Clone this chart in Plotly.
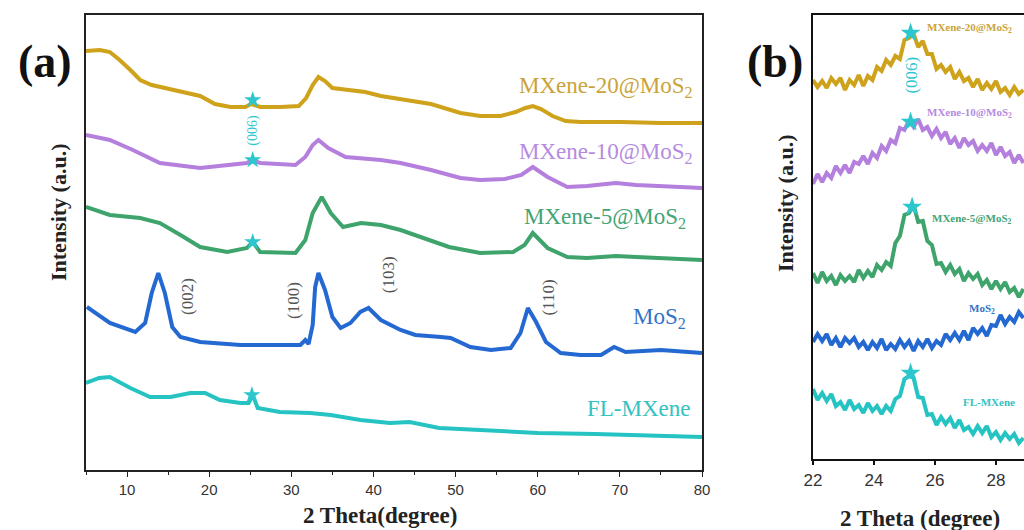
import plotly.graph_objects as go

W, H = 1024, 530

# ---------------- Panel (a) data: 2theta vs intensity (a.u., stacked) ----------------
names = ["MXene-20@MoS<sub>2</sub>", "MXene-10@MoS<sub>2</sub>", "MXene-5@MoS<sub>2</sub>", "MoS<sub>2</sub>", "FL-MXene"]
colors = ["#CFA21C", "#B47FDD", "#3EA46C", "#2468D2", "#26C3C3"]
label_colors = ["#C9A43A", "#B58BE0", "#45A474", "#3272C8", "#35C2C2"]

gold_x = [5, 6.7, 7.9, 9.1, 10.4, 11.6, 13, 14.6, 17.1, 18.9, 20.7, 22.6, 24.4, 25.1, 25.5, 26.2, 28.7, 30.9, 31.8,
          32.6, 33.3, 34.1, 35, 36.6, 39, 40.9, 43.3, 47, 50.6, 53, 55.5, 57.3, 58.5, 59.4, 60.4, 61.8, 63.4, 65.2,
          70.1, 75, 80]
gold_y = [419, 420, 418, 410, 400, 390, 385, 382, 378, 374, 366, 363, 363, 366, 365, 363, 363, 364, 372,
          385, 393, 389, 382, 380, 378, 374, 371, 366, 357, 354, 354, 358, 362, 364, 361, 354, 349, 348,
          348, 347, 347]

purple_x = [5, 7.9, 10.7, 14, 18.9, 22.9, 24.6, 25.2, 26.2, 30.5, 31.7, 32.6, 33.3, 34.5, 36.6, 40.9, 43.3, 47,
            50.6, 53, 56, 58, 59.4, 61.2, 63.6, 66, 69.5, 72, 76, 80]
purple_y = [335, 330, 320, 307, 302, 305, 307, 310, 307, 305, 313, 325, 330, 322, 313, 310, 307, 300,
            292, 290, 291, 295, 303, 293, 283, 284, 287, 285, 283, 282]

green_x = [5, 7.9, 11.6, 14, 16.5, 18.9, 22.2, 24.6, 25.3, 26.2, 30.5, 31.7, 32.6, 33.7, 34.8, 36.3, 38.5, 40.9,
           43.3, 49.2, 53, 57, 58.4, 59.4, 61.2, 63.6, 66, 69.5, 72, 76, 80]
green_y = [263, 255, 252, 247, 235, 223, 218, 222, 228, 218, 217, 230, 257, 273, 257, 243, 247, 245,
           240, 223, 217, 218, 225, 237, 222, 213, 212, 214, 213, 211, 210]

blue_x = [5.1, 7.9, 11, 12.2, 13, 13.8, 14.6, 15.5, 16.5, 18.9, 23.8, 31.1, 31.7, 32.1, 32.6, 32.9, 33.3, 34.1,
          35, 36, 37.2, 38.4, 39.4, 40.9, 43.3, 45.1, 48.2, 49.4, 51.8, 54.3, 56.7, 57.9, 58.8, 59.8, 61,
          62.8, 65.2, 67.7, 69.3, 70.7, 75, 80]
blue_y = [163, 147, 138, 147, 177, 197, 177, 143, 133, 128, 125, 125, 130, 126, 145, 183, 197, 180,
          153, 142, 147, 158, 162, 150, 140, 135, 133, 132, 123, 120, 122, 137, 162, 148, 128,
          117, 115, 115, 123, 118, 120, 117]

cyan_x = [5, 6.6, 7.9, 10.4, 12.8, 15.3, 17.7, 19.5, 21.3, 23.8, 24.8, 25.3, 25.9, 28.6, 32.3, 34.8, 38.4, 42,
          44.4, 48, 53, 60, 67, 73, 80]
cyan_y = [87, 92, 93, 82, 73, 73, 77, 77, 70, 67, 67, 75, 62, 58, 57, 55, 50, 47,
          48, 42, 40, 37, 36, 35, 33]

star_a_x = [25.3, 25.3, 25.3, 25.2]
star_a_y = [370, 310, 228, 75]

hkl_labels = ["(002)", "(100)", "(103)", "(110)"]
hkl_x = [17.3, 30.2, 41.8, 61.2]
hkl_y = [173, 170, 195, 172]

# ---------------- Panel (b) data ----------------
xb = [22.00, 22.15, 22.30, 22.45, 22.60, 22.75, 22.90, 23.05, 23.20, 23.35, 23.50, 23.65, 23.80, 23.95, 24.10,
      24.25, 24.40, 24.55, 24.70, 24.85, 25.00, 25.15, 25.30, 25.45, 25.60, 25.75, 25.90, 26.05, 26.20, 26.35,
      26.50, 26.65, 26.80, 26.95, 27.10, 27.25, 27.40, 27.55, 27.70, 27.85, 28.00, 28.15, 28.30, 28.45, 28.60,
      28.75, 28.90]
gold_b = [379, 372, 378, 371, 381, 375, 381, 369, 379, 374, 384, 373, 383, 379, 392, 388, 399, 394, 403, 400, 419,
          421, 425, 412, 418, 405, 405, 390, 394, 387, 392, 380, 387, 378, 381, 372, 380, 369, 376, 370, 378, 367,
          371, 364, 372, 365, 369]
purple_b = [275, 285, 277, 286, 281, 293, 286, 294, 286, 297, 295, 303, 295, 306, 301, 313, 308, 319, 316, 331,
            329, 339, 332, 340, 329, 332, 323, 330, 321, 327, 315, 321, 311, 321, 314, 318, 308, 314, 308, 316,
            304, 312, 303, 307, 296, 304, 296]
green_b = [186, 176, 187, 178, 183, 174, 184, 178, 183, 177, 189, 181, 188, 182, 194, 189, 197, 193, 216, 223,
           244, 246, 254, 237, 238, 218, 214, 195, 196, 187, 194, 185, 190, 178, 186, 180, 185, 174, 179, 170,
           178, 170, 177, 167, 171, 162, 170]
blue_b = [117, 125, 118, 125, 114, 121, 112, 121, 116, 121, 112, 117, 109, 117, 111, 120, 109, 115, 110, 119,
          112, 118, 108, 118, 112, 120, 111, 118, 114, 125, 119, 126, 119, 128, 119, 131, 125, 131, 123, 134,
          133, 144, 135, 142, 137, 147, 141]
cyan_b = [70, 59, 66, 58, 65, 53, 57, 49, 59, 50, 54, 46, 56, 48, 53, 45, 53, 48, 60, 63, 80, 83, 81, 62, 61, 44,
          45, 34, 42, 35, 41, 31, 39, 29, 32, 25, 33, 26, 33, 22, 27, 19, 26, 20, 25, 16, 21]

star_b_x = [25.2, 25.2, 25.25, 25.2]
star_b_y = [426, 337, 252, 86]

x_ticks_a = [10, 20, 30, 40, 50, 60, 70, 80]
x_minor_a = [5, 15, 25, 35, 45, 55, 65, 75]
x_ticks_b = [22, 24, 26, 28]

# ---------------- Figure ----------------
def px(x):
    return x / W

def py(y):
    return 1 - y / H

fig = go.Figure()

series_a = [(gold_x, gold_y), (purple_x, purple_y), (green_x, green_y), (blue_x, blue_y), (cyan_x, cyan_y)]
for (sx, sy), c in zip(series_a, colors):
    fig.add_trace(go.Scatter(x=sx, y=sy, mode="lines", line=dict(color=c, width=4),
                             xaxis="x", yaxis="y", showlegend=False, hoverinfo="skip"))

fig.add_trace(go.Scatter(x=star_a_x, y=star_a_y, mode="markers",
                         marker=dict(symbol="star", size=13, color="#2CC6CE"),
                         xaxis="x", yaxis="y", showlegend=False))

series_b = [gold_b, purple_b, green_b, blue_b, cyan_b]
for sy, c in zip(series_b, colors):
    fig.add_trace(go.Scatter(x=xb, y=sy, mode="lines", line=dict(color=c, width=4),
                             xaxis="x2", yaxis="y2", showlegend=False, hoverinfo="skip"))

fig.add_trace(go.Scatter(x=star_b_x, y=star_b_y, mode="markers",
                         marker=dict(symbol="star", size=15, color="#2CC6CE"),
                         xaxis="x2", yaxis="y2", showlegend=False))

serif = "Liberation Serif"
sans = "Liberation Sans"

ann = []
# hkl labels (panel a)
for t, hx, hy in zip(hkl_labels, hkl_x, hkl_y):
    ann.append(dict(x=hx, y=hy, xref="x", yref="y", text=t, showarrow=False, textangle=-90,
                    xanchor="center", yanchor="middle",
                    font=dict(family=serif, size=17, color="#555555")))
# (006) labels
ann.append(dict(x=25.3, y=340, xref="x", yref="y", text="(006)", showarrow=False, textangle=-90,
                xanchor="center", yanchor="middle",
                font=dict(family=serif, size=14, color="#2CC6CE")))
ann.append(dict(x=25.2, y=384, xref="x2", yref="y2", text="(006)", showarrow=False, textangle=-90,
                xanchor="center", yanchor="middle",
                font=dict(family=serif, size=17, color="#2CC6CE")))

# sample labels (panel a)
a_lab_pos = [(695, 87), (695, 153), (688, 218), (688, 318), (692, 408)]
for n, c, (lx, ly) in zip(names, label_colors, a_lab_pos):
    ann.append(dict(x=px(lx), y=py(ly), xref="paper", yref="paper", text=n, showarrow=False,
                    xanchor="right", yanchor="middle", font=dict(family=serif, size=23, color=c)))

# sample labels (panel b)
b_lab_pos = [(925, 28), (925, 113), (930, 219), (967, 309), (961, 402)]
for n, c, (lx, ly) in zip(names, label_colors, b_lab_pos):
    ann.append(dict(x=px(lx), y=py(ly), xref="paper", yref="paper", text="<b>" + n + "</b>", showarrow=False,
                    xanchor="left", yanchor="middle", font=dict(family=serif, size=11, color=c)))

# panel letters
ann.append(dict(x=px(45), y=py(62), xref="paper", yref="paper", text="<b>(a)</b>", showarrow=False,
                xanchor="center", yanchor="middle", font=dict(family=serif, size=46, color="#111111")))
ann.append(dict(x=px(775), y=py(62), xref="paper", yref="paper", text="<b>(b)</b>", showarrow=False,
                xanchor="center", yanchor="middle", font=dict(family=serif, size=46, color="#111111")))

# axis titles
ann.append(dict(x=px(380), y=py(515), xref="paper", yref="paper", text="<b>2 Theta(degree)</b>",
                xanchor="center", yanchor="middle",
                showarrow=False, font=dict(family=serif, size=23, color="#222222")))
ann.append(dict(x=px(58), y=py(212), xref="paper", yref="paper", text="<b>Intensity (a.u.)</b>",
                xanchor="center", yanchor="middle",
                showarrow=False, textangle=-90, font=dict(family=serif, size=22, color="#222222")))
ann.append(dict(x=px(920), y=py(518), xref="paper", yref="paper", text="<b>2 Theta (degree)</b>",
                xanchor="center", yanchor="middle",
                showarrow=False, font=dict(family=serif, size=23, color="#222222")))
ann.append(dict(x=px(785), y=py(203), xref="paper", yref="paper", text="<b>Intensity (a.u.)</b>",
                xanchor="center", yanchor="middle",
                showarrow=False, textangle=-90, font=dict(family=serif, size=22, color="#222222")))

fig.update_layout(
    width=W, height=H,
    margin=dict(l=0, r=0, t=0, b=0, autoexpand=False),
    paper_bgcolor="white", plot_bgcolor="white",
    showlegend=False,
    annotations=ann,
    xaxis=dict(domain=[px(86), px(702)], range=[5, 80], tickvals=x_ticks_a, ticks="outside", ticklen=5,
               tickwidth=1.2, tickcolor="#222", showline=True, linecolor="#222", linewidth=1.5, mirror=True,
               showgrid=False, zeroline=False, anchor="y",
               tickfont=dict(family=sans, size=15, color="#333333"),
               minor=dict(tickvals=x_minor_a, ticks="outside", ticklen=3,
                          tickcolor="#222", tickwidth=1)),
    yaxis=dict(domain=[py(470), py(15)], range=[0, 455], showticklabels=False, ticks="", showline=True,
               linecolor="#222", linewidth=1.5, mirror=True, showgrid=False, zeroline=False, anchor="x"),
    xaxis2=dict(domain=[px(813), 1.0], range=[22, 28.92], tickvals=x_ticks_b, ticks="outside", ticklen=4,
                tickwidth=1.5, tickcolor="#111", showline=True, linecolor="#111", linewidth=2.2, mirror=True,
                showgrid=False, zeroline=False, anchor="y2",
                tickfont=dict(family=sans, size=17, color="#333333")),
    yaxis2=dict(domain=[py(459), py(15)], range=[0, 444], showticklabels=False, ticks="", showline=True,
                linecolor="#111", linewidth=2.2, mirror=False, showgrid=False, zeroline=False, anchor="x2"),
)

fig.write_html("out.html", config={"displayModeBar": False},
               post_script="document.body.style.margin='0';document.body.style.overflow='hidden';")
